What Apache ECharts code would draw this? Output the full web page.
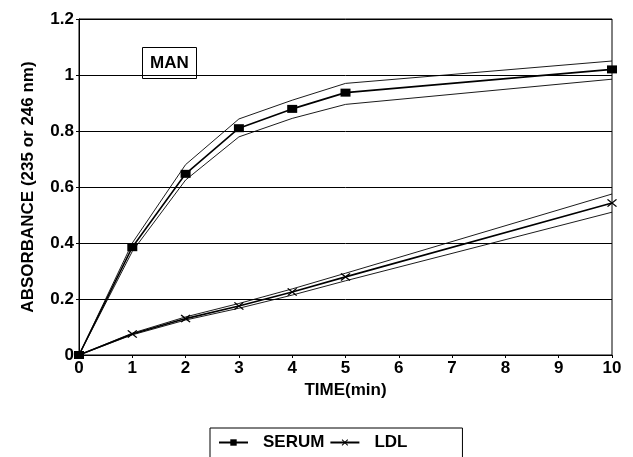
<!DOCTYPE html>
<html>
<head>
<meta charset="utf-8">
<script src="https://cdn.jsdelivr.net/npm/echarts@6/dist/echarts.min.js"></script>
<style>
  html, body { margin: 0; padding: 0; background: #fff; }
  #chart { width: 633px; height: 457px; }
</style>
</head>
<body>
<div id="chart"></div>
<script>
// time points (min)
const times = [0, 1, 2, 3, 4, 5, 10];
// SERUM mean and the two thin envelope lines
const serum = [0, 0.385, 0.647, 0.81, 0.879, 0.937, 1.02];
const serumHigh = [0, 0.40, 0.68, 0.843, 0.91, 0.97, 1.05];
const serumLow = [0, 0.37, 0.625, 0.779, 0.845, 0.895, 0.985];
// LDL mean and envelope
const ldl = [0, 0.075, 0.13, 0.175, 0.225, 0.279, 0.543];
const ldlHigh = [0, 0.078, 0.136, 0.184, 0.236, 0.292, 0.575];
const ldlLow = [0, 0.072, 0.125, 0.167, 0.214, 0.265, 0.51];

const pairs = vals => times.map((t, i) => [t, vals[i]]);
const font = "Liberation Sans, Arial, sans-serif";
const crossIcon = 'path://M0,1L1,0L5,4L9,0L10,1L6,5L10,9L9,10L5,6L1,10L0,9L4,5Z';
// scanned text looks heavy, bold fits the widths best
const txt = { fontFamily: font, fontSize: 17, fontWeight: 'bold', color: '#000' };

function envelope(name, vals) {
    return {
        name: name,
        type: 'line',
        data: pairs(vals),
        symbol: 'none',
        lineStyle: { color: '#000', width: 0.9 },
        silent: true,
        z: 1
    };
}

const chart = echarts.init(document.getElementById('chart'));
chart.setOption({
    animation: false,
    textStyle: { fontFamily: font },
    grid: { left: 79, right: 21, top: 19, bottom: 102, show: true, borderColor: '#000', borderWidth: 1 },
    title: {
        text: 'MAN',
        left: 142, top: 47,
        padding: [8, 8, 7, 8],
        borderColor: '#000', borderWidth: 1,
        textStyle: txt
    },
    legend: {
        data: ['SERUM', 'LDL'],
        left: 210, top: 428,
        padding: [6, 55, 20, 8],
        borderColor: '#000', borderWidth: 1,
        itemWidth: 29, itemHeight: 8, itemGap: 5,
        textStyle: Object.assign({}, txt, { padding: [0, 0, 0, 10] })
    },
    xAxis: {
        type: 'value',
        min: 0, max: 10, interval: 1,
        name: 'TIME(min)',
        nameLocation: 'middle',
        nameGap: 27,
        nameTextStyle: txt,
        axisLine: { lineStyle: { color: '#000' } },
        axisTick: { lineStyle: { color: '#000' }, length: 3 },
        axisLabel: Object.assign({ margin: 5 }, txt),
        splitLine: { show: false }
    },
    yAxis: {
        type: 'value',
        min: 0, max: 1.2, interval: 0.2,
        name: 'ABSORBANCE (235 or 246 nm)',
        nameLocation: 'middle',
        nameGap: 42,
        nameTextStyle: txt,
        axisLine: { show: true, lineStyle: { color: '#000' } },
        axisTick: { show: true, lineStyle: { color: '#000' }, length: 3 },
        axisLabel: Object.assign({ margin: 5 }, txt),
        splitLine: { lineStyle: { color: '#000', width: 1 } }
    },
    series: [
        envelope('serumHigh', serumHigh),
        envelope('serumLow', serumLow),
        envelope('ldlHigh', ldlHigh),
        envelope('ldlLow', ldlLow),
        {
            name: 'SERUM',
            type: 'line',
            data: pairs(serum),
            symbol: 'rect',
            symbolSize: [10, 8],
            itemStyle: { color: '#000' },
            lineStyle: { color: '#000', width: 1.6 },
            z: 3
        },
        {
            name: 'LDL',
            type: 'line',
            data: pairs(ldl),
            symbol: crossIcon,
            symbolSize: [10, 8],
            itemStyle: { color: '#000' },
            lineStyle: { color: '#000', width: 1.6 },
            z: 3
        }
    ]
});
</script>
</body>
</html>
